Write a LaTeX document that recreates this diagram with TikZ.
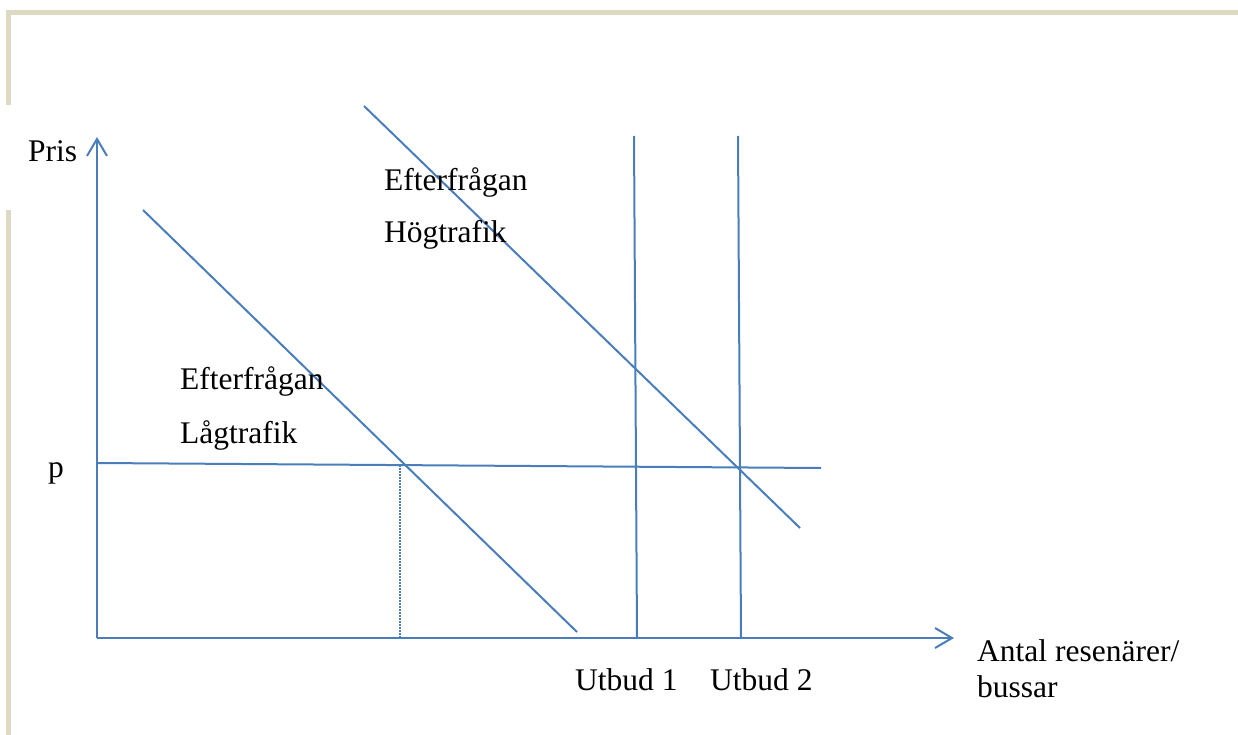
\documentclass[tikz,border=0pt]{standalone}
\usepackage{fontspec}
\setmainfont{Liberation Serif}
\usetikzlibrary{arrows.meta}
\definecolor{lineblue}{HTML}{4A7EBB}
\definecolor{framebeige}{HTML}{DDD9C3}
\begin{document}
\begin{tikzpicture}[x=1pt,y=-1pt,
  plotline/.style={draw=lineblue,line width=2pt},
  axisline/.style={draw=lineblue,line width=2pt,-{Straight Barb[length=17pt,width=20pt,line width=2pt]}},
  lbl/.style={inner sep=0pt,anchor=base west,font=\fontsize{31.5}{38}\selectfont}]
\useasboundingbox (0,0) rectangle (1238,735);
\fill[white] (0,0) rectangle (1238,735);
% frame
\fill[framebeige] (6,10) rectangle (1238,15.5);
\fill[framebeige] (6,10) rectangle (10.5,105);
\fill[framebeige] (6,210) rectangle (10.5,735);
% coordinates
\coordinate (O) at (97,638);
\coordinate (ytip) at (97,137);
\coordinate (xtip) at (954,638);
\coordinate (lowA) at (143,210);
\coordinate (lowB) at (577,632);
\coordinate (highA) at (364,106);
\coordinate (highB) at (800,528);
\coordinate (u1top) at (634,136);
\coordinate (u1bot) at (637,638);
\coordinate (u2top) at (738,136);
\coordinate (u2bot) at (741,638);
\coordinate (pA) at (97,463);
\coordinate (pB) at (821,468);
\coordinate (dTop) at (400,465);
\coordinate (dBot) at (400,638);
% lines
\draw[plotline] (lowA) -- (lowB);
\draw[plotline] (highA) -- (highB);
\draw[plotline] (u1top) -- (u1bot);
\draw[plotline] (u2top) -- (u2bot);
\draw[plotline] (pA) -- (pB);
\draw[draw=lineblue,line width=1.6pt,dash pattern=on 1.6pt off 1.4pt] (dTop) -- (dBot);
\draw[axisline] (O) -- (ytip);
\draw[axisline] (O) -- (xtip);
% labels
\node[lbl] (pris) at (28,162) {Pris};
\node[lbl] (plbl) at (48,477) {p};
\node[lbl] (eh) at (384,191) {Efterfrågan};
\node[lbl] (hog) at (384,243) {Högtrafik};
\node[lbl] (el) at (180,389) {Efterfrågan};
\node[lbl] (lag) at (180,443) {Lågtrafik};
\node[lbl] (ut1) at (575,690) {Utbud 1};
\node[lbl] (ut2) at (710,690) {Utbud 2};
\node[lbl] (antal) at (977,661) {Antal resenärer/};
\node[lbl] (buss) at (977,697) {bussar};
\end{tikzpicture}
\end{document}
